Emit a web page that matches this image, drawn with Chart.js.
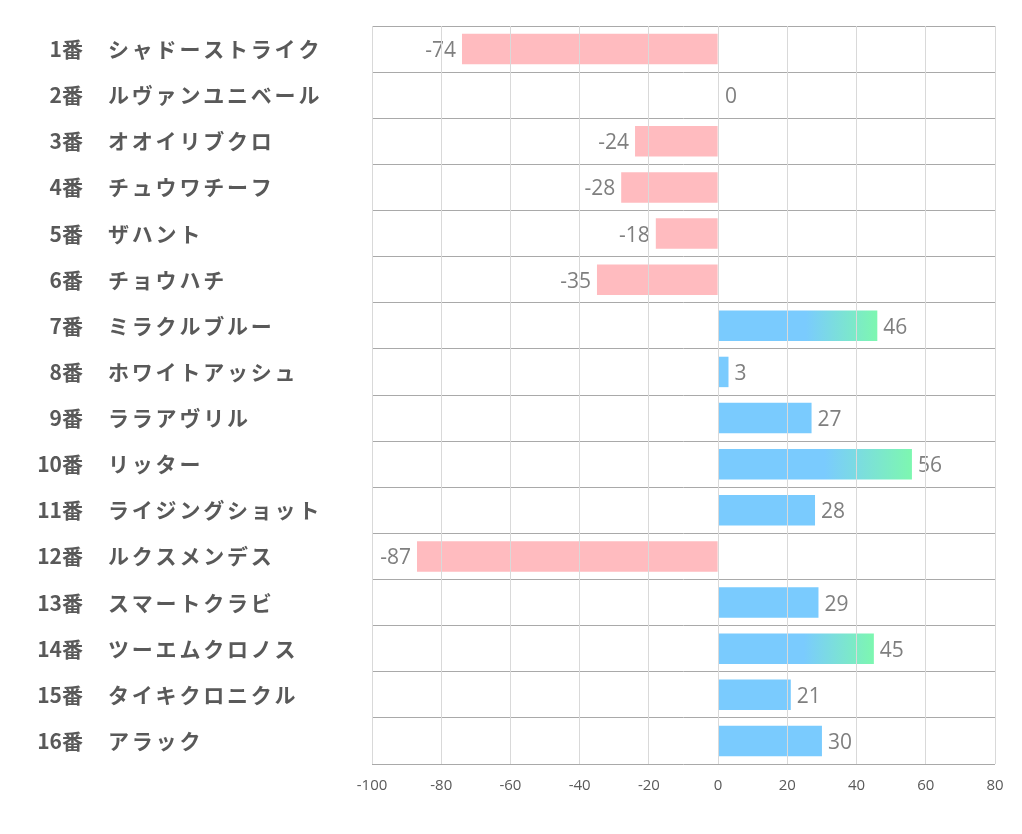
<!DOCTYPE html>
<html>
<head>
<meta charset="utf-8">
<script src="https://cdn.jsdelivr.net/npm/chart.js@4.4.0/dist/chart.umd.min.js"></script>
<style>
  html, body { margin: 0; padding: 0; background: #fff; }
  #wrap { width: 1022px; height: 834px; }
</style>
</head>
<body>
<div id="wrap"><canvas id="myChart" width="1022" height="834"></canvas></div>
<script>
const horseNumbers = ['1番', '2番', '3番', '4番', '5番', '6番', '7番', '8番',
  '9番', '10番', '11番', '12番', '13番', '14番', '15番', '16番'];
const horseNames = ['シャドーストライク', 'ルヴァンユニベール', 'オオイリブクロ', 'チュウワチーフ',
  'ザハント', 'チョウハチ', 'ミラクルブルー', 'ホワイトアッシュ', 'ララアヴリル', 'リッター',
  'ライジングショット', 'ルクスメンデス', 'スマートクラビ', 'ツーエムクロノス', 'タイキクロニクル', 'アラック'];
const scores = [-74, 0, -24, -28, -18, -35, 46, 3, 27, 56, 28, -87, 29, 45, 21, 30];
const xTicks = [-100, -80, -60, -40, -20, 0, 20, 40, 60, 80];

const PINK = '#FFBBBF';
const BLUE = '#7ACBFE';
const GREEN = '#7DF7B0';
const LABEL_FONT = '"Noto Sans CJK JP", "Noto Sans", sans-serif';
const NUM_FONT = '"Open Sans", "Liberation Sans", sans-serif';

function barColor(context) {
  const v = scores[context.dataIndex];
  if (v < 0) return PINK;
  if (v < 40) return BLUE;
  const chart = context.chart;
  const area = chart.chartArea;
  if (!area) return BLUE;
  const x = chart.scales.x;
  const x0 = x.getPixelForValue(0);
  const x1 = x.getPixelForValue(v);
  const g = chart.ctx.createLinearGradient(x0, 0, x1, 0);
  g.addColorStop(0, BLUE);
  g.addColorStop(0.55, BLUE);
  g.addColorStop(1, GREEN);
  return g;
}

// horse number + name on the left, value next to each bar
const labelPlugin = {
  id: 'labels',
  afterDatasetsDraw(chart) {
    const ctx = chart.ctx;
    const y = chart.scales.y;
    ctx.save();
    ctx.textBaseline = 'middle';
    ctx.fillStyle = '#595959';
    ctx.font = 'bold 21px ' + LABEL_FONT;
    horseNumbers.forEach((n, i) => {
      const py = y.getPixelForValue(i);
      ctx.textAlign = 'right';
      ctx.letterSpacing = '0px';
      ctx.fillText(n, 83, py);
      ctx.textAlign = 'left';
      ctx.letterSpacing = '2.8px';
      ctx.fillText(horseNames[i], 108, py);
    });
    ctx.letterSpacing = '0px';

    ctx.fillStyle = '#7F7F7F';
    ctx.font = '21px ' + NUM_FONT;
    const meta = chart.getDatasetMeta(0);
    meta.data.forEach((bar, i) => {
      const v = scores[i];
      if (v < 0) {
        ctx.textAlign = 'right';
        ctx.fillText(String(v), bar.x - 6, bar.y + 2);
      } else {
        ctx.textAlign = 'left';
        ctx.fillText(String(v), bar.x + (v === 0 ? 7 : 6), bar.y + 2);
      }
    });
    ctx.restore();
  }
};

const ctx = document.getElementById('myChart').getContext('2d');
new Chart(ctx, {
  type: 'bar',
  data: {
    labels: horseNames,
    datasets: [{
      data: scores,
      backgroundColor: barColor,
      borderWidth: 0,
      barPercentage: 0.66,
      categoryPercentage: 1.0
    }]
  },
  plugins: [labelPlugin],
  options: {
    indexAxis: 'y',
    responsive: false,
    animation: false,
    layout: {
      padding: { left: 0, right: 27, top: 26, bottom: 26 }
    },
    plugins: {
      legend: { display: false },
      tooltip: { enabled: false }
    },
    scales: {
      x: {
        min: -100,
        max: 80,
        afterBuildTicks: (axis) => { axis.ticks = xTicks.map(v => ({ value: v })); },
        grid: { color: '#D9D9D9', lineWidth: 1, drawTicks: false, z: 1 },
        border: { display: false },
        ticks: {
          color: '#595959',
          font: { family: NUM_FONT, size: 15 },
          padding: 13
        }
      },
      y: {
        grid: { color: '#A9A9A9', lineWidth: 1, drawTicks: false, offset: true },
        border: { display: false },
        ticks: { display: false },
        afterFit: (axis) => { axis.width = 372; }
      }
    }
  }
});
</script>
</body>
</html>
